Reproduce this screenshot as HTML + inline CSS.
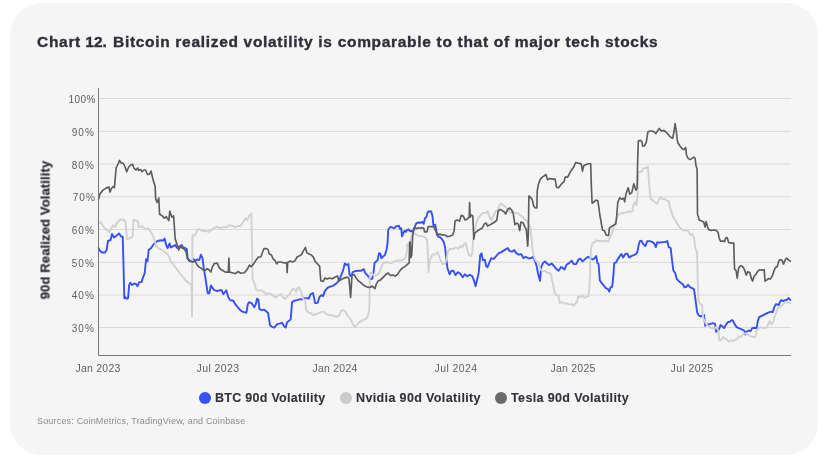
<!DOCTYPE html>
<html><head><meta charset="utf-8">
<style>
html,body{margin:0;padding:0;background:#fff;}
body{width:830px;height:464px;position:relative;overflow:hidden;font-family:"Liberation Sans",sans-serif;}
#card{position:absolute;left:9.5px;top:3px;width:808.8px;height:451.7px;background:#f5f5f5;border-radius:32px;}
.t{position:absolute;white-space:nowrap;line-height:1;will-change:transform;}
#title{left:37.3px;top:34px;font-size:15.5px;font-weight:bold;color:#2e2f38;-webkit-text-stroke:0.35px #2e2f38;}
#t1{letter-spacing:0;}
#t2{position:absolute;left:76px;top:0;letter-spacing:0.69px;}
.yl{font-size:10px;color:#5f5f64;text-align:right;width:40px;left:56px;letter-spacing:0.5px;}
.xl{font-size:10.5px;color:#5f5f64;text-align:center;width:60px;top:362.6px;letter-spacing:0.25px;}
.lg{font-size:12.5px;font-weight:bold;color:#303139;top:392.4px;-webkit-text-stroke:0.1px #303139;}
.dot{position:absolute;width:12px;height:12px;border-radius:50%;top:392.3px;}
#src{left:36.9px;top:417px;font-size:9px;color:#8b8b8f;letter-spacing:0.18px;}
#ytitle{left:44.9px;top:229.5px;font-size:13px;font-weight:bold;color:#2f3038;letter-spacing:0.13px;-webkit-text-stroke:0.25px #2f3038;transform:translate(-50%,-50%) rotate(-90deg);}
svg{position:absolute;left:0;top:0;}
</style></head><body>
<div id="card"></div>
<div class="t" id="title"><span id="t1"><span style="letter-spacing:0.7px">Chart</span> 12.</span><span id="t2">Bitcoin realized volatility is comparable to that of major tech stocks</span></div>
<svg width="830" height="464" viewBox="0 0 830 464" fill="none">
<path d="M98.5 98.5H791M98.5 131.4H791M98.5 164.1H791M98.5 196.8H791M98.5 229.5H791M98.5 262.3H791M98.5 295.0H791M98.5 327.5H791" stroke="#dadada" stroke-width="1"/>
<path d="M98.6 248.1L100.0 250.7L102.0 252.5L105.0 252.5L106.6 250.1L108.0 241.0L110.6 240.0L112.0 234.0L114.0 237.4L116.1 236.0L119.1 233.4L121.1 236.6L122.7 236.6L123.5 265.1L124.3 298.2L125.5 297.2L126.7 298.8L128.1 298.2L129.1 285.1L130.3 282.7L132.1 285.1L134.1 283.5L136.1 284.1L137.5 286.1L139.1 282.1L141.5 282.1L143.1 277.1L144.7 273.1L146.1 259.1L147.5 261.1L148.7 250.1L151.1 248.1L153.1 245.0L155.1 242.6L157.6 241.0L161.2 240.2L163.2 240.6L164.6 238.6L166.2 245.0L167.6 248.1L169.6 243.4L170.8 247.5L173.2 246.1L175.2 245.0L177.2 248.1L179.2 246.7L181.6 245.0L183.2 247.5L185.2 248.1L186.8 249.1L187.6 258.1L189.2 260.1L191.2 261.5L193.6 259.1L195.2 260.7L197.2 259.5L199.3 260.1L200.9 254.7L202.5 258.1L203.7 268.1L205.3 277.1L206.5 285.1L207.7 293.2L209.3 293.2L210.9 285.5L212.3 287.6L214.3 290.2L217.3 291.2L219.7 290.2L221.7 290.2L223.3 294.2L226.3 290.2L228.3 297.2L230.3 300.2L233.3 300.8L235.3 304.2L237.7 307.2L240.3 310.2L242.4 311.6L246.4 312.8L247.8 304.2L249.0 302.2L251.4 303.2L253.0 305.2L254.4 307.2L255.8 304.2L257.0 298.8L258.4 299.6L259.4 309.2L262.0 310.2L264.0 309.6L266.0 311.2L268.0 312.8L270.0 325.2L272.0 326.8L274.4 327.6L277.1 324.2L279.5 323.6L282.1 322.8L284.1 326.2L285.7 327.6L287.1 322.2L289.1 320.8L290.7 319.2L292.1 302.1L294.1 300.7L297.1 300.1L300.1 299.1L302.1 299.5L304.1 298.1L306.7 298.1L308.7 298.7L310.7 294.1L313.1 293.1L315.1 303.1L317.6 302.7L319.6 296.7L321.6 295.1L323.2 296.1L324.8 291.1L327.2 288.1L329.6 286.7L332.2 286.1L334.2 285.1L336.2 283.5L337.6 282.1L339.2 280.1L341.2 275.1L343.2 270.1L344.8 263.4L346.8 265.0L348.4 264.0L349.6 275.1L351.2 276.1L352.8 272.1L355.2 271.1L358.2 270.7L361.3 270.7L363.7 269.1L365.3 273.1L367.3 275.1L368.9 277.1L370.3 279.1L372.3 278.7L373.7 271.1L374.5 263.0L377.6 260.1L379.1 253.2L380.4 253.6L381.4 258.3L383.2 256.4L384.9 255.1L386.6 249.5L387.6 242.6L388.2 230.1L389.5 227.8L390.8 226.9L392.6 227.6L394.5 228.2L396.1 226.3L397.6 226.1L398.9 225.7L399.9 228.8L401.2 228.2L402.0 236.3L403.3 233.2L404.5 230.7L405.8 231.9L407.0 230.1L408.7 229.4L409.9 231.3L411.2 230.7L412.7 231.9L414.2 229.4L415.2 225.7L416.4 223.2L418.3 222.5L420.2 222.8L422.1 221.9L423.7 223.8L425.0 218.2L426.5 216.9L427.5 212.5L429.0 211.3L431.2 211.5L432.5 216.3L433.4 225.1L435.2 224.8L436.2 230.1L437.1 235.1L439.0 237.0L440.3 237.3L441.8 238.8L444.0 242.6L445.1 247.5L446.3 259.2L447.5 268.2L449.5 274.2L451.1 271.2L453.5 270.8L455.5 275.2L457.6 272.2L460.2 273.6L462.8 277.2L464.8 274.2L467.2 276.2L469.6 274.8L472.2 276.2L474.2 281.2L475.6 286.2L477.2 279.2L478.8 272.2L480.2 255.1L481.6 253.5L482.8 260.2L484.8 259.6L486.2 266.2L487.6 267.2L489.2 262.8L491.2 258.2L493.6 258.8L496.2 256.1L498.8 253.1L501.3 252.1L504.3 250.1L507.7 248.1L509.7 251.1L512.3 251.5L514.3 250.1L516.3 253.1L518.9 254.7L521.3 254.1L523.3 258.2L525.7 256.7L528.3 258.2L530.9 258.2L532.9 257.1L534.4 259.5L536.4 265.1L538.0 273.2L540.0 280.8L541.2 267.1L543.0 263.1L545.0 261.5L547.0 263.5L549.0 265.1L551.7 263.5L554.1 266.1L556.1 268.8L558.5 270.8L561.1 267.1L563.1 268.2L564.5 269.6L566.5 264.7L569.1 263.1L571.7 260.7L573.7 264.1L576.1 264.1L578.5 259.5L580.5 258.7L582.5 261.5L585.1 259.1L588.1 256.7L590.1 258.1L592.6 259.5L594.6 258.1L596.2 256.1L597.4 263.1L598.6 264.1L599.8 280.2L601.8 283.2L603.8 285.6L605.8 288.2L607.8 288.8L609.2 291.6L610.6 287.2L612.2 286.8L613.4 275.2L614.2 263.1L615.8 262.7L617.8 259.1L619.8 256.1L621.2 254.1L623.2 257.5L625.2 254.1L627.2 253.5L629.2 257.5L631.2 256.1L633.8 255.1L635.9 254.1L637.3 252.1L638.7 245.1L639.9 241.1L641.3 240.7L643.3 244.1L645.3 246.1L647.3 241.1L649.9 241.1L652.3 242.1L654.3 243.5L655.9 247.1L657.3 242.1L659.9 242.7L662.3 242.1L664.7 242.1L667.3 241.1L668.7 247.1L670.7 248.1L671.9 259.1L673.3 270.2L675.3 273.2L676.8 279.2L678.8 281.2L680.8 282.8L682.8 284.2L684.4 287.2L686.4 286.8L688.0 284.8L690.0 287.2L692.0 288.2L694.0 289.2L695.1 297.0L696.1 304.1L697.1 312.1L698.5 315.1L700.5 316.5L702.5 315.7L704.1 315.1L705.1 325.7L707.1 324.1L709.1 324.5L711.1 323.7L713.1 323.1L715.1 324.1L716.1 331.7L717.7 331.1L719.1 329.1L720.5 325.1L722.5 326.5L724.1 328.1L725.7 325.1L727.8 322.1L729.8 321.7L731.8 320.1L733.2 321.1L734.6 324.1L736.6 327.1L738.6 328.1L741.2 329.1L743.2 330.1L744.6 331.1L745.2 334.5L746.6 331.7L748.6 330.5L750.6 331.1L752.2 328.1L754.2 327.7L756.6 328.1L757.8 321.1L759.2 317.1L761.2 316.1L763.2 315.1L765.2 314.1L767.2 313.1L769.3 312.1L771.3 311.7L772.7 312.1L774.3 307.1L775.9 304.1L777.3 304.5L778.7 305.1L779.9 302.1L781.3 300.0L783.3 301.1L785.3 300.0L787.3 299.6L788.7 298.0L790.3 300.0" stroke="#3650fa" stroke-width="1.9" stroke-linejoin="round" stroke-linecap="round"/>
<path d="M98.6 223.2L101.0 222.2L103.0 226.2L106.0 229.2L109.0 232.2L111.0 229.2L113.0 225.2L115.0 227.2L117.1 222.2L120.1 219.8L124.1 219.8L125.5 222.2L126.1 229.2L127.1 239.2L130.1 238.2L132.7 236.2L133.5 219.8L135.1 220.2L138.1 221.8L138.7 227.2L142.1 226.2L145.1 229.2L148.1 228.2L151.1 232.2L153.1 236.2L155.1 242.0L156.1 246.1L159.2 248.7L162.2 250.1L164.2 252.1L166.8 253.1L169.2 257.1L171.2 262.1L173.2 264.1L175.2 267.1L178.2 271.1L180.2 274.1L183.2 277.1L186.2 281.1L189.2 283.5L191.6 284.7L192.0 316.2L192.4 235.0L192.8 236.2L195.2 235.2L197.2 229.8L199.3 229.2L202.3 231.2L205.3 230.6L208.3 231.8L211.3 230.2L214.3 227.8L217.3 226.8L220.3 228.2L223.3 227.2L226.3 227.2L229.3 225.2L232.3 225.8L235.3 227.2L238.3 225.8L240.3 226.2L243.4 221.8L245.4 218.2L247.4 220.2L249.4 215.2L251.4 213.8L252.0 243.0L252.6 279.1L254.4 283.1L255.4 287.1L256.0 289.1L258.0 290.7L261.0 290.1L264.0 292.1L266.0 294.7L268.0 293.1L271.0 294.1L274.0 296.1L276.1 297.5L278.7 295.1L281.1 294.1L283.1 297.5L285.1 299.1L287.5 296.1L289.1 294.7L291.1 291.5L292.7 288.7L294.7 289.5L296.1 292.1L297.5 288.1L299.5 287.5L301.5 293.1L303.1 299.1L305.1 299.5L306.3 310.2L308.7 312.8L311.1 313.2L313.5 315.2L316.1 314.2L318.8 313.2L321.2 312.2L323.6 311.6L326.2 314.2L328.8 315.2L331.2 315.2L334.2 316.2L337.2 316.8L339.2 315.2L341.2 310.8L343.2 310.2L345.2 311.2L346.8 314.8L349.2 317.2L351.2 320.2L352.8 324.2L354.8 326.8L356.8 325.2L358.8 322.2L361.3 321.2L363.7 319.6L366.3 318.8L368.3 315.2L369.3 309.2L369.9 273.1L371.3 272.7L373.3 275.1L375.3 275.5L377.7 274.7L379.7 272.1L381.7 266.1L383.3 263.0L386.3 262.0L388.9 262.6L391.3 263.4L393.7 261.4L396.3 260.6L398.9 260.2L401.4 260.6L403.8 259.4L405.8 257.0L407.0 251.0L407.8 245.0L406.6 246.1L408.6 243.1L410.0 242.1L412.0 234.1L414.0 233.1L416.7 235.1L419.1 236.1L422.1 236.1L425.1 237.1L427.1 240.1L427.9 255.1L428.5 272.2L429.5 261.2L431.1 257.1L433.1 254.1L435.1 254.7L437.5 252.1L439.1 256.1L440.7 260.8L442.7 264.2L445.1 263.6L446.7 258.2L448.1 251.1L450.1 248.7L453.1 249.1L455.5 247.5L458.2 248.7L460.2 246.1L462.2 247.5L464.2 244.1L465.6 242.7L467.2 249.1L468.8 255.1L470.8 256.1L472.2 253.1L473.2 239.1L474.2 233.1L476.2 223.1L478.2 218.1L480.8 215.0L483.2 212.6L485.6 213.4L487.6 211.0L489.2 216.1L491.2 220.1L493.2 216.1L495.2 212.0L497.6 210.0L499.7 205.0L501.3 203.4L503.3 205.4L505.7 207.0L508.3 210.0L510.9 213.0L513.3 211.4L515.3 213.4L517.7 213.0L519.7 215.0L521.7 216.1L524.3 219.1L526.9 221.1L528.9 224.7L530.3 227.1L531.3 235.1L532.3 247.1L533.3 254.1L534.9 259.2L536.3 261.2L538.3 263.2L540.3 269.2L543.0 271.2L545.4 270.8L547.4 273.2L549.8 272.8L551.4 275.2L551.7 279.0L553.1 284.1L554.5 292.1L556.1 295.1L558.5 295.7L559.7 303.1L562.1 302.1L564.2 303.7L566.6 303.1L569.2 304.5L571.8 304.1L573.8 305.7L575.8 303.1L577.2 301.1L578.2 296.1L580.2 297.1L582.2 295.7L584.2 297.7L586.2 297.1L588.2 296.1L589.2 290.1L590.2 272.0L590.1 263.1L591.1 248.1L592.6 243.1L594.6 242.1L596.6 240.1L598.6 241.1L601.2 240.7L603.2 241.5L605.8 240.7L608.2 241.5L610.2 237.1L612.2 232.7L614.2 225.0L616.6 219.0L618.2 215.0L620.6 213.4L623.2 213.0L625.8 212.6L628.2 211.4L630.6 212.0L632.6 210.6L633.2 205.2L634.7 202.2L636.3 205.2L637.5 196.2L638.3 172.5L639.9 171.7L641.9 171.7L643.3 168.1L645.9 168.1L647.9 166.5L648.7 178.1L649.9 192.2L650.7 199.2L652.7 200.2L654.7 202.2L656.7 203.8L658.3 201.2L660.3 197.2L662.3 199.2L664.7 198.6L666.7 200.6L668.7 201.2L669.9 207.2L670.3 208.0L671.9 213.0L673.3 217.4L675.3 220.0L677.4 224.0L679.4 227.1L682.0 229.5L684.4 230.7L686.8 230.1L688.8 232.1L690.4 235.1L692.4 234.1L694.0 238.1L695.2 247.1L697.1 253.1L697.7 280.1L698.5 300.2L700.1 304.2L702.1 305.2L702.5 313.1L703.7 319.1L705.1 322.1L707.1 325.1L709.1 326.5L711.1 328.1L713.1 327.7L714.5 328.5L716.5 327.1L718.1 330.1L719.3 340.1L721.1 340.1L723.1 337.1L725.1 338.5L727.2 340.1L729.2 341.7L731.2 340.1L733.2 341.1L735.2 339.7L737.2 339.1L738.6 336.1L740.6 337.1L742.6 334.5L744.6 333.7L746.6 333.1L748.6 335.1L751.2 336.5L753.8 337.1L755.8 336.1L756.6 330.1L758.2 329.1L760.2 327.1L762.6 327.7L765.2 328.1L767.2 327.1L768.7 323.1L769.9 321.1L771.3 324.5L773.3 322.1L774.7 316.1L776.3 312.1L777.9 308.1L779.9 307.1L782.3 305.1L784.3 303.1L786.7 302.1L788.7 302.5L790.3 303.1" stroke="#d1d1d1" stroke-width="1.9" stroke-linejoin="round" stroke-linecap="round"/>
<path d="M98.6 199.1L100.0 193.7L103.0 190.1L106.0 188.1L109.0 187.1L110.0 192.1L111.4 188.5L113.0 186.7L114.4 187.7L116.1 168.0L118.1 164.0L119.5 160.4L121.1 163.0L123.1 163.0L125.1 167.0L126.7 171.7L128.7 167.0L130.7 165.0L132.7 164.4L134.1 168.4L136.1 170.0L137.7 168.0L138.7 170.4L140.7 169.6L142.1 171.7L143.7 170.0L145.5 170.0L147.5 174.5L149.5 174.1L151.1 171.1L153.1 180.1L155.1 186.1L155.7 199.1L157.1 202.5L158.8 198.1L159.6 214.2L162.2 215.8L164.2 218.2L166.2 216.6L168.8 220.6L169.8 211.1L171.8 217.2L173.6 215.8L174.6 230.2L175.2 239.0L177.2 245.0L178.8 250.1L180.2 246.1L182.2 248.1L184.2 249.1L186.2 252.1L187.2 258.1L189.2 261.1L191.2 261.5L193.2 262.1L195.2 261.1L197.2 265.1L199.3 267.1L202.3 269.1L204.3 270.7L207.3 268.7L209.3 270.1L210.9 272.1L212.3 267.1L214.3 263.5L217.3 263.1L218.9 267.1L220.9 269.5L223.3 270.7L225.3 272.1L228.3 272.1L228.9 258.1L229.5 272.1L232.3 272.7L235.3 273.7L238.3 271.5L240.3 273.1L244.4 272.7L247.4 269.1L249.4 265.1L251.0 266.7L253.4 264.1L255.4 261.1L258.4 257.1L261.0 256.7L262.6 252.0L264.0 248.6L266.0 248.6L268.0 249.4L269.4 254.0L271.4 255.0L273.0 258.6L275.0 260.6L276.7 264.0L278.1 262.0L281.1 262.0L284.1 263.0L286.7 262.6L287.1 272.7L287.7 262.6L290.1 261.0L292.7 262.0L295.1 260.6L297.1 257.0L299.1 256.0L301.5 254.6L303.5 250.6L305.5 247.4L306.7 252.6L309.1 254.0L311.5 255.0L313.5 257.4L315.1 261.4L317.6 264.0L319.6 266.1L320.8 280.7L323.2 281.5L324.8 278.1L327.2 279.1L329.6 278.1L332.2 278.7L335.2 277.1L337.6 276.1L338.8 281.1L341.2 279.5L344.2 278.1L347.2 277.1L348.8 278.1L349.6 285.1L350.6 297.5L351.4 285.1L352.0 275.1L354.2 274.7L356.2 278.1L358.2 280.7L360.3 282.1L362.3 284.1L364.9 286.1L367.3 287.1L369.7 287.5L372.3 286.1L374.9 288.7L376.3 284.1L378.3 280.7L380.3 280.1L382.3 278.1L384.3 276.1L386.3 274.1L388.3 273.1L390.3 275.5L392.9 275.1L395.3 276.1L397.7 274.1L400.3 270.1L402.4 268.1L405.4 266.1L409.4 262.6L409.2 260.1L409.7 242.6L410.2 242.0L410.8 257.6L411.7 255.1L412.7 236.3L413.7 228.2L415.2 227.6L416.7 228.6L418.3 227.8L420.2 228.2L422.1 227.6L423.7 228.2L424.6 231.9L427.1 231.9L428.0 226.9L429.6 226.6L432.1 226.6L434.0 226.9L435.0 229.4L436.2 231.9L437.7 234.4L440.3 234.1L442.1 235.1L444.0 234.8L445.1 235.1L447.5 236.7L450.1 236.1L452.7 235.1L454.1 231.1L455.1 221.1L457.1 220.1L459.6 221.1L461.2 215.4L463.2 216.1L465.2 220.1L467.6 218.7L469.2 217.1L469.6 202.6L470.2 217.1L471.6 215.0L472.8 216.1L473.8 239.1L474.8 233.1L477.2 231.1L479.6 229.5L482.2 228.1L484.2 224.1L486.2 223.1L487.6 226.1L489.6 225.1L492.2 223.5L494.8 222.1L496.8 220.1L498.2 211.0L500.3 209.4L502.3 210.6L504.3 212.0L505.7 214.0L507.7 209.4L509.7 208.0L511.7 210.0L513.3 214.0L514.9 224.7L516.9 223.1L518.3 224.1L519.7 230.7L520.9 222.1L523.3 223.1L524.9 227.1L526.3 229.1L527.7 246.1L528.3 235.1L528.9 196.0L530.3 197.0L532.3 200.0L533.7 206.0L535.3 208.0L536.9 208.0L537.2 191.2L538.4 184.2L540.4 179.1L542.4 177.1L544.4 175.7L546.0 174.5L547.6 179.7L550.0 178.5L552.5 179.1L555.1 179.1L556.5 187.2L558.5 187.8L560.1 185.8L562.1 183.2L564.1 181.7L565.1 177.1L567.7 177.1L569.7 173.1L571.7 169.7L573.7 167.1L575.7 162.5L578.1 163.1L581.1 163.7L582.5 171.1L583.7 165.7L586.1 164.5L588.5 163.7L590.7 163.7L591.3 184.2L592.1 203.2L593.8 202.2L595.8 200.2L597.8 200.6L599.0 208.2L599.8 215.0L600.6 219.0L601.8 226.1L602.6 230.1L604.6 231.1L606.2 235.1L608.6 235.5L609.4 228.1L611.2 226.7L613.2 225.4L615.8 224.0L616.6 217.0L617.8 202.2L619.8 197.8L621.8 199.2L623.8 198.2L624.6 201.8L626.2 193.2L628.2 187.8L629.8 194.2L631.8 192.6L633.8 183.8L635.9 190.2L637.1 188.2L637.7 160.1L638.3 141.1L640.3 140.4L641.9 141.7L642.7 146.1L644.7 145.7L646.3 142.1L647.9 132.0L649.9 131.0L652.3 131.0L654.3 132.0L655.9 133.6L657.9 130.4L659.3 128.4L661.3 131.0L663.9 130.4L665.9 132.0L668.3 134.4L670.3 137.0L672.7 138.4L673.9 132.0L675.1 123.6L676.4 132.0L677.4 141.1L678.0 143.0L680.0 146.0L682.4 149.0L684.0 149.6L685.7 147.6L686.5 155.0L688.1 158.4L690.1 159.6L692.1 158.4L693.7 157.0L695.1 158.4L696.1 166.1L697.1 169.1L697.5 214.2L698.5 217.2L699.1 220.0L701.7 221.0L703.7 222.0L705.1 227.0L706.1 221.6L707.3 226.0L708.5 229.6L711.1 230.4L713.7 230.0L716.1 230.4L718.1 232.4L719.1 238.0L720.5 241.1L723.1 241.1L724.5 241.7L725.7 238.0L727.2 237.6L728.6 242.5L731.2 243.1L733.8 243.1L734.2 260.1L734.6 269.1L736.2 271.1L737.2 278.1L738.6 268.1L740.6 265.7L742.6 266.5L744.2 269.1L746.2 275.1L747.8 271.7L749.8 272.5L751.2 278.1L752.6 281.1L754.2 276.1L755.8 274.5L757.8 271.1L759.8 269.7L762.2 270.1L764.2 269.7L765.0 281.1L766.6 280.1L768.7 278.5L770.3 279.1L772.3 276.1L773.9 271.1L775.3 267.7L777.3 266.5L778.7 261.1L779.9 259.7L781.9 260.1L783.5 264.1L785.1 260.1L786.7 258.1L788.3 260.1L790.3 261.1" stroke="#5d5d5d" stroke-width="1.65" stroke-linejoin="round" stroke-linecap="round"/>
<path d="M98.5 88.2V355.5H791" stroke="#777777" stroke-width="1"/>
</svg>
<div class="t yl" style="top:94.9px;">100%</div>
<div class="t yl" style="top:127.8px;left:54.6px;letter-spacing:1.1px">90%</div>
<div class="t yl" style="top:160.5px;left:54.6px;letter-spacing:1.1px">80%</div>
<div class="t yl" style="top:193.2px;left:55.6px;letter-spacing:1.1px">70%</div>
<div class="t yl" style="top:225.9px;left:54.6px;letter-spacing:1.1px">60%</div>
<div class="t yl" style="top:258.7px;left:54.6px;letter-spacing:1.1px">50%</div>
<div class="t yl" style="top:291.4px;left:54.6px;letter-spacing:1.1px">40%</div>
<div class="t yl" style="top:323.9px;left:54.6px;letter-spacing:1.1px">30%</div>
<div class="t" id="ytitle">90d Realized Volatility</div>
<div class="t xl" style="left:67.9px">Jan 2023</div>
<div class="t xl" style="left:187.9px;letter-spacing:0.4px">Jul 2023</div>
<div class="t xl" style="left:305.1px">Jan 2024</div>
<div class="t xl" style="left:425.6px;letter-spacing:0.4px">Jul 2024</div>
<div class="t xl" style="left:542.7px">Jan 2025</div>
<div class="t xl" style="left:662.4px;letter-spacing:0.4px">Jul 2025</div>
<div class="dot" style="left:199px;background:#3650fa"></div>
<div class="t lg" id="l1" style="left:215px;letter-spacing:0.28px">BTC 90d Volatility</div>
<div class="dot" style="left:339.8px;background:#cbcbcb"></div>
<div class="t lg" id="l2" style="left:355.9px;letter-spacing:0.37px">Nvidia 90d Volatility</div>
<div class="dot" style="left:494.8px;background:#6a6a6a"></div>
<div class="t lg" id="l3" style="left:510.9px;letter-spacing:0.37px">Tesla 90d Volatility</div>
<div class="t" id="src">Sources: CoinMetrics, TradingView, and Coinbase</div>
</body></html>
